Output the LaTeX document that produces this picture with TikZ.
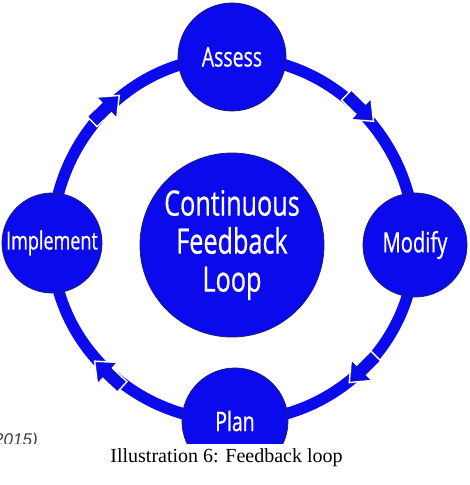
\documentclass[tikz,border=0pt]{standalone}
\usepackage{fontspec}
\setmainfont{Liberation Serif}
\newfontfamily\labfont[FakeStretch=0.72,FakeBold=0.6]{Open Sans}
\newfontfamily\citefont{Liberation Sans}
\usetikzlibrary{backgrounds}
\definecolor{loopblue}{RGB}{10,10,236}
\definecolor{edgeblue}{RGB}{30,30,110}
\tikzset{
  stage/.style={circle, fill=loopblue, draw=edgeblue, line width=0.8pt, text=white,
    inner sep=0pt, minimum size=#1},
  ringline/.style={draw=loopblue, line width=11.5pt},
  flowarrow/.pic={
    \path[fill=loopblue, draw=edgeblue, line width=0.4pt, line join=miter,
      preaction={draw=white, line width=3.5pt}]
      (-18,-6) -- (2,-6) -- (2,-12.5) -- (17,0) -- (2,12.5) -- (2,6) -- (-18,6) -- cycle;
  }
}
\begin{document}
\begin{tikzpicture}[x=1pt,y=1pt]
\useasboundingbox (0,0) rectangle (470,485);
\coordinate (ringc) at (233,245);

\node[stage=108, font=\labfont\fontsize{27}{30}\selectfont] (assess) at (232,428) {Assess};
\node[stage=104, font=\labfont\fontsize{28}{30}\selectfont] (modify) at (415,240) {Modify};
\node[stage=100, font=\labfont\fontsize{25}{30}\selectfont] (implement) at (52,242) {Implement};
\node[stage=106, font=\labfont\fontsize{27}{30}\selectfont] (plan) at (235,64) {Plan};
\node[stage=184, align=center, font=\labfont\fontsize{35}{38}\selectfont] (core) at (232,240)
  {Continuous\\Feedback\\Loop};

\begin{pgfonlayer}{background}
  \fill[white] (0,0) rectangle (470,485);
  \draw[ringline] (assess.center) to[out=0,in=90] (modify.center);
  \draw[ringline] (modify.center) to[out=-90,in=0] (plan.center);
  \draw[ringline] (plan.center) to[out=180,in=-90] (implement.center);
  \draw[ringline] (implement.center) to[out=90,in=180] (assess.center);
  \pic[rotate=44] at ([shift={(134:183)}]ringc) {flowarrow};
  \pic[rotate=-44] at ([shift={(46:183)}]ringc) {flowarrow};
  \pic[rotate=-135] at ([shift={(-45:183)}]ringc) {flowarrow};
  \pic[rotate=137] at ([shift={(-133:183)}]ringc) {flowarrow};
\end{pgfonlayer}

\node[anchor=base west, inner sep=0pt, text=black!75,
  font=\citefont\itshape\fontsize{17}{20}\selectfont] (cite) at (-6,39.5) {2015)};
\fill[white] (0,0) rectangle (470,41);
\node[anchor=base, inner sep=0pt, font=\fontsize{20}{24}\selectfont] (caption) at (226.5,22)
  {Illustration 6: Feedback loop};
\end{tikzpicture}
\end{document}
